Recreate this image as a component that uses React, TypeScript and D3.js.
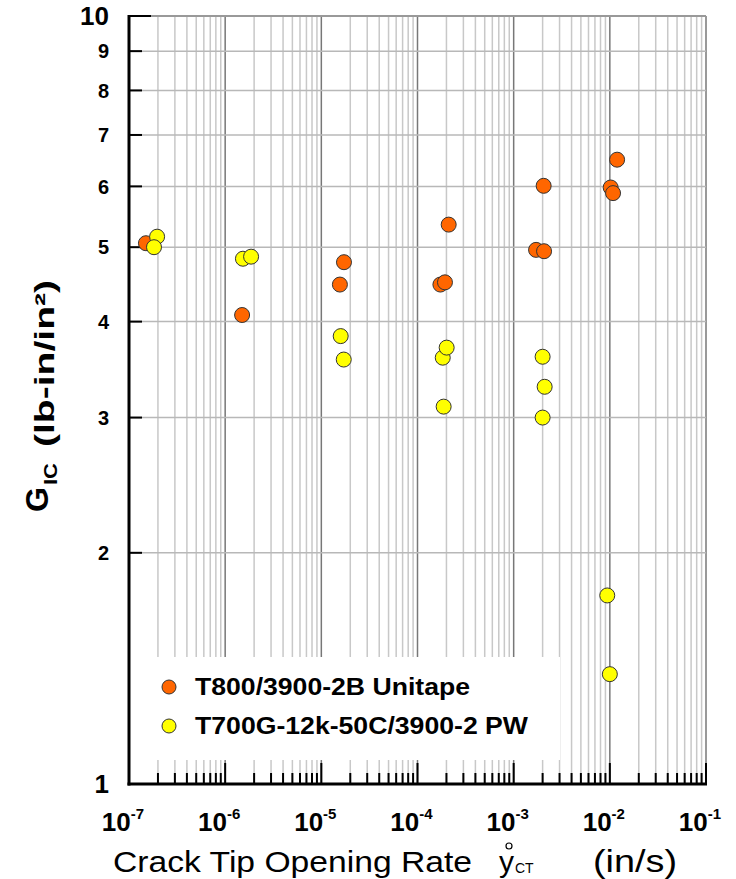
import React from "react";
import * as d3 from "d3";

// T800/3900-2B Unitape
const orangeX = [1.5e-7, 1.5e-6, 1.56e-5, 1.72e-5, 1.73e-4, 1.93e-4, 2.11e-4, 1.71e-3, 2.07e-3, 2.05e-3, 1.02e-2, 1.08e-2, 1.19e-2];
const orangeY = [5.06, 4.08, 4.47, 4.78, 4.47, 4.5, 5.35, 4.96, 4.94, 6.01, 5.98, 5.88, 6.5];
// T700G-12k-50C/3900-2 PW
const yellowX = [1.96e-7, 1.82e-7, 1.53e-6, 1.86e-6, 1.59e-5, 1.71e-5, 1.83e-4, 2.01e-4, 1.87e-4, 2.0e-3, 2.1e-3, 2.0e-3, 9.4e-3, 1.0e-2];
const yellowY = [5.16, 5.0, 4.83, 4.86, 3.83, 3.57, 3.59, 3.7, 3.1, 3.6, 3.29, 3.0, 1.76, 1.39];

const xExponents = [-7, -6, -5, -4, -3, -2, -1];
const yTickLabels = [1, 2, 3, 4, 5, 6, 7, 8, 9, 10];

const seriesNames = ["T800/3900-2B Unitape", "T700G-12k-50C/3900-2 PW"];
const seriesColors = ["#ff6600", "#ffff00"];

const W = 736;
const H = 879;
const left = 129;
const right = 706;
const top = 16;
const bottom = 784;
const font = "Arial, 'Liberation Sans', sans-serif";

const App = () => {
  const x = d3.scaleLog().domain([1e-7, 1e-1]).range([left, right]);
  const y = d3.scaleLog().domain([1, 10]).range([bottom, top]);

  const xTicks = x.ticks();
  const isDecade = (v: number) => Math.abs(Math.log10(v) - Math.round(Math.log10(v))) < 1e-9;

  const orange = orangeX.map((v, i) => [v, orangeY[i]]);
  const yellow = yellowX.map((v, i) => [v, yellowY[i]]);

  return (
    <svg width={W} height={H} style={{ position: "absolute", left: 0, top: 0 }} fontFamily={font}>
      <rect width={W} height={H} fill="white" />
      {/* grid */}
      {xTicks.map((t, i) => (
        <line key={"gx" + i} x1={x(t)} x2={x(t)} y1={top} y2={bottom}
          stroke={isDecade(t) ? "#777" : "#c8c8c8"} strokeWidth={1.5} />
      ))}
      {yTickLabels.map((t, i) => (
        <line key={"gy" + i} x1={left} x2={right} y1={y(t)} y2={y(t)}
          stroke={t === 10 ? "#999" : "#b8b8b8"} strokeWidth={t === 10 ? 2 : 1.5} />
      ))}

      {/* legend box covering the grid */}
      <rect x={131} y={657} width={429} height={103} fill="white" />

      {/* axes */}
      <line x1={left} x2={left} y1={top - 1} y2={bottom + 1.5} stroke="black" strokeWidth={3} />
      <line x1={left - 1.5} x2={right + 1} y1={bottom} y2={bottom} stroke="black" strokeWidth={3} />
      {xTicks.map((t, i) => (
        <line key={"tx" + i} x1={x(t)} x2={x(t)} y1={bottom} y2={bottom - (isDecade(t) ? 21 : 11)}
          stroke="black" strokeWidth={2} />
      ))}
      {yTickLabels.map((t, i) => (
        <line key={"ty" + i} x1={left} x2={left + (t === 10 ? 22 : 13)} y1={y(t)} y2={y(t)}
          stroke="black" strokeWidth={2} />
      ))}

      {/* y tick labels */}
      {yTickLabels.map((t, i) => (
        <text key={"ly" + i} x={109} y={y(t)} dy="0.36em" textAnchor="end" fontWeight="bold"
          fontSize={t === 1 || t === 10 ? 26 : 20}>{t}</text>
      ))}

      {/* x tick labels */}
      {xExponents.map((e) => (
        <text key={"lx" + e} x={x(Math.pow(10, e)) - 6} y={831} textAnchor="middle" fontWeight="bold" fontSize={26}>
          10
          <tspan fontSize={15} dy={-12}>{e}</tspan>
        </text>
      ))}

      {/* x title */}
      <text x={113} y={872} fontSize={30} textLength={359} lengthAdjust="spacingAndGlyphs">Crack Tip Opening Rate</text>
      <text x={499} y={872} fontSize={30}>y</text>
      <circle cx={509} cy={846} r={3} fill="none" stroke="black" strokeWidth={1.2} />
      <text x={515} y={873} fontSize={14}>CT</text>
      <text x={593} y={872} fontSize={31} textLength={84} lengthAdjust="spacingAndGlyphs">(in/s)</text>

      {/* y title */}
      <text transform="translate(48,512) rotate(-90)" fontSize={32} fontWeight="bold">G</text>
      <text transform="translate(57,485) rotate(-90)" fontSize={18} fontWeight="bold" textLength={22} lengthAdjust="spacingAndGlyphs">IC</text>
      <text transform="translate(54,447) rotate(-90)" fontSize={27} fontWeight="bold" textLength={167} lengthAdjust="spacingAndGlyphs">(lb-in/in²)</text>

      {/* points */}
      {orange.map((d, i) => (
        <circle key={"o" + i} cx={x(d[0])} cy={y(d[1])} r={7.5} fill={seriesColors[0]} stroke="#333" strokeWidth={1} />
      ))}
      {yellow.map((d, i) => (
        <circle key={"y" + i} cx={x(d[0])} cy={y(d[1])} r={7.5} fill={seriesColors[1]} stroke="#333" strokeWidth={1} />
      ))}

      {/* legend */}
      {seriesNames.map((name, i) => (
        <g key={"lg" + i}>
          <circle cx={169} cy={687 + i * 39} r={7} fill={seriesColors[i]} stroke="#333" strokeWidth={1} />
          <text x={195} y={695 + i * 39} fontSize={24} fontWeight="bold"
            textLength={i === 0 ? 275 : 333} lengthAdjust="spacingAndGlyphs">{name}</text>
        </g>
      ))}
    </svg>
  );
};

export default App;
